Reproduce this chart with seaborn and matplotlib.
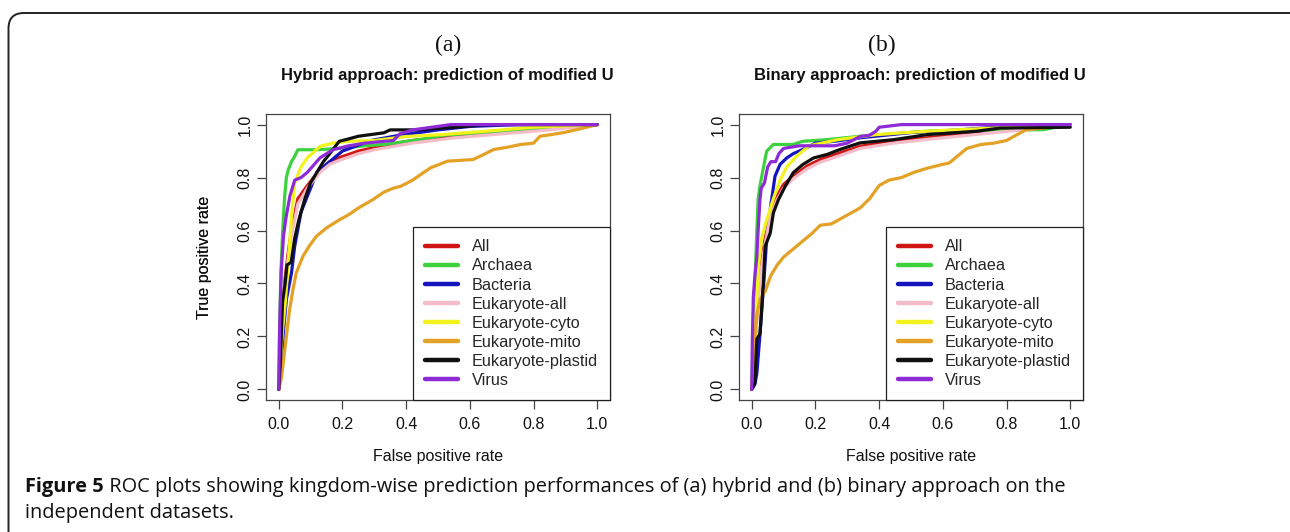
import numpy as np
import pandas as pd
import matplotlib
matplotlib.use("Agg")
import matplotlib.pyplot as plt
from matplotlib.patches import FancyBboxPatch
import seaborn as sns

# ---------------- data ----------------
series_names = ["All", "Archaea", "Bacteria", "Eukaryote-all", "Eukaryote-cyto",
                "Eukaryote-mito", "Eukaryote-plastid", "Virus"]
series_colors = ["#D01515", "#3DD23D", "#1515C0", "#F4BCC8", "#F2F21E",
                 "#E3A126", "#101010", "#8E2BD6"]

# Panel (a): hybrid approach
a_all_fpr = [0, .005, .01, .02, .03, .04, .06, .09, .13, .16, .19, .25, .30, .42, .55, .70, .85, 1]
a_all_tpr = [0, .12, .25, .42, .52, .60, .72, .77, .83, .86, .875, .90, .913, .94, .955, .97, .985, 1]
a_arch_fpr = [0, .003, .007, .012, .018, .024, .03, .04, .05, .06, .12, .19, .27, .33, .45, .52, .70, .85, 1]
a_arch_tpr = [0, .25, .45, .59, .72, .80, .83, .86, .88, .905, .905, .91, .92, .925, .945, .96, .975, .99, 1]
a_bact_fpr = [0, .005, .01, .014, .024, .04, .05, .07, .09, .12, .16, .20, .29, .38, .50, .60, .75, 1]
a_bact_tpr = [0, .05, .12, .21, .34, .44, .54, .67, .73, .82, .86, .90, .94, .96, .98, .993, 1, 1]
a_euka_fpr = [0, .005, .01, .02, .03, .04, .06, .09, .13, .16, .19, .25, .30, .42, .55, .70, .85, 1]
a_euka_tpr = [0, .10, .22, .40, .50, .58, .70, .76, .82, .85, .865, .89, .905, .93, .95, .965, .98, 1]
a_cyto_fpr = [0, .005, .01, .02, .03, .04, .05, .07, .09, .13, .17, .22, .30, .40, .51, .65, .80, 1]
a_cyto_tpr = [0, .10, .20, .32, .48, .65, .78, .84, .875, .918, .93, .937, .94, .955, .962, .975, .99, 1]
a_mito_fpr = [0, .008, .019, .034, .045, .055, .076, .095, .118, .15, .19, .22, .25, .296, .33, .36,
              .383, .42, .45, .477, .53, .61, .64, .675, .72, .76, .80, .82, .86, .895, .95, 1]
a_mito_tpr = [0, .04, .15, .30, .38, .44, .503, .54, .578, .61, .64, .66, .685, .717, .745, .76,
              .767, .79, .815, .837, .862, .868, .885, .906, .915, .925, .93, .956, .963, .97, .985, 1]
a_plas_fpr = [0, .005, .008, .012, .02, .026, .039, .05, .063, .082, .10, .12, .14, .16, .19, .21,
              .25, .33, .35, .43, .55, .65, 1]
a_plas_tpr = [0, .10, .20, .33, .40, .47, .48, .57, .64, .72, .78, .82, .86, .89, .937, .943,
              .956, .969, .98, .98, .99, 1, 1]
a_viru_fpr = [0, .003, .008, .015, .023, .035, .05, .07, .09, .13, .17, .22, .27, .36, .38, .42, .54, 1]
a_viru_tpr = [0, .25, .45, .58, .65, .73, .79, .80, .82, .875, .905, .92, .93, .94, .965, .98, 1, 1]

# Panel (b): binary approach
b_all_fpr = [0, .005, .01, .016, .026, .042, .058, .079, .10, .13, .173, .215, .277, .34, .445, .55, .707, .864, 1]
b_all_tpr = [0, .08, .18, .28, .44, .57, .667, .73, .774, .805, .843, .868, .893, .918, .937, .95, .969, .987, 1]
b_arch_fpr = [0, .005, .01, .016, .02, .026, .037, .047, .068, .13, .16, .235, .34, .55, .916, 1]
b_arch_tpr = [0, .20, .40, .60, .72, .77, .84, .90, .925, .925, .937, .943, .956, .975, .981, 1]
b_bact_fpr = [0, .01, .016, .026, .037, .047, .058, .073, .089, .11, .13, .16, .20, .26, .34, .50, .65, .81, 1]
b_bact_tpr = [0, .02, .06, .21, .39, .57, .68, .805, .85, .874, .89, .906, .93, .937, .95, .97, .98, .994, 1]
b_euka_fpr = [0, .005, .01, .016, .026, .042, .058, .079, .10, .13, .173, .215, .277, .34, .445, .55, .707, .864, 1]
b_euka_tpr = [0, .07, .16, .26, .42, .55, .65, .715, .76, .795, .833, .858, .883, .91, .93, .944, .963, .982, 1]
b_cyto_fpr = [0, .005, .01, .021, .031, .047, .068, .089, .11, .14, .18, .27, .39, .55, .76, 1]
b_cyto_tpr = [0, .10, .21, .465, .57, .64, .72, .79, .84, .88, .92, .943, .962, .975, .987, 1]
b_mito_fpr = [0, .005, .01, .016, .026, .042, .06, .08, .10, .13, .16, .19, .215, .25, .28, .31, .34,
              .37, .40, .43, .47, .51, .55, .60, .62, .645, .675, .72, .76, .80, .83, .86, .90, 1]
b_mito_tpr = [0, .10, .20, .28, .34, .37, .43, .47, .50, .53, .56, .59, .62, .625, .645, .665, .685,
              .72, .77, .79, .80, .82, .835, .85, .855, .88, .91, .925, .93, .94, .96, .98, .985, 1]
b_plas_fpr = [0, .01, .016, .026, .037, .042, .058, .068, .084, .105, .13, .16, .194, .236, .277,
              .34, .445, .55, .707, .78, 1]
b_plas_tpr = [0, .025, .19, .21, .415, .54, .59, .667, .717, .767, .818, .849, .874, .887, .906,
              .931, .943, .962, .975, .987, .99]
b_viru_fpr = [0, .002, .005, .01, .016, .02, .026, .03, .04, .05, .06, .075, .085, .10, .15, .26,
              .30, .34, .37, .39, .40, .47, 1]
b_viru_tpr = [0, .20, .35, .43, .50, .60, .72, .76, .78, .84, .86, .86, .89, .91, .92, .92,
              .93, .955, .96, .975, .99, 1, 1]

panel_letters = ["(a)", "(b)"]
panel_titles = ["Hybrid approach: prediction of modified U",
                "Binary approach: prediction of modified U"]
tick_values = [0.0, 0.2, 0.4, 0.6, 0.8, 1.0]
tick_labels = ["0.0", "0.2", "0.4", "0.6", "0.8", "1.0"]
x_label = "False positive rate"
y_label = "True positive rate"
caption_bold = "Figure 5"
caption_rest = (" ROC plots showing kingdom-wise prediction performances of (a) hybrid and (b) binary approach on the",
                "independent datasets.")

panel_a = [(a_all_fpr, a_all_tpr), (a_arch_fpr, a_arch_tpr), (a_bact_fpr, a_bact_tpr),
           (a_euka_fpr, a_euka_tpr), (a_cyto_fpr, a_cyto_tpr), (a_mito_fpr, a_mito_tpr),
           (a_plas_fpr, a_plas_tpr), (a_viru_fpr, a_viru_tpr)]
panel_b = [(b_all_fpr, b_all_tpr), (b_arch_fpr, b_arch_tpr), (b_bact_fpr, b_bact_tpr),
           (b_euka_fpr, b_euka_tpr), (b_cyto_fpr, b_cyto_tpr), (b_mito_fpr, b_mito_tpr),
           (b_plas_fpr, b_plas_tpr), (b_viru_fpr, b_viru_tpr)]


def make_df(panel):
    rows = []
    for name, (xs, ys) in zip(series_names, panel):
        for i, (x, y) in enumerate(zip(xs, ys)):
            rows.append({"series": name, "order": i, "fpr": x, "tpr": y})
    return pd.DataFrame(rows)


# ---------------- style ----------------
sns.set_theme(style="white")
plt.rcParams["font.family"] = ["Liberation Sans", "DejaVu Sans"]

W, H = 1290, 532
fig = plt.figure(figsize=(W / 100, H / 100), dpi=100)
fig.patch.set_facecolor("white")

# outer rounded frame (figure pixel coords -> fraction)
frame = FancyBboxPatch((8.5 / W, -0.05), 1.2, (H - 13) / H + 0.05,
                       boxstyle="round,pad=0,rounding_size=0.012",
                       transform=fig.transFigure, fill=False,
                       edgecolor="#222222", linewidth=1.4, mutation_aspect=W / H)
fig.patches.append(frame)

axes_px = [(266, 610), (739, 1083)]
ax_top, ax_bot = 114, 400
title_cx = [447, 920]
letter_cx = [448, 882]

palette = dict(zip(series_names, series_colors))
spine_col = "#444444"

for k, panel in enumerate([panel_a, panel_b]):
    l, r = axes_px[k]
    ax = fig.add_axes([l / W, (H - ax_bot) / H, (r - l) / W, (ax_bot - ax_top) / H])
    df = make_df(panel)
    sns.lineplot(data=df, x="fpr", y="tpr", hue="series", hue_order=series_names,
                 palette=palette, sort=False, estimator=None, legend=False,
                 linewidth=2.3, ax=ax)
    ax.set_xlim(-0.04, 1.04)
    ax.set_ylim(-0.04, 1.04)
    ax.set_xticks(tick_values)
    ax.set_xticklabels(tick_labels)
    ax.set_yticks(tick_values)
    ax.set_yticklabels(tick_labels, rotation=90, va="center")
    ax.tick_params(axis="both", direction="out", length=6.5, width=0.9, color=spine_col,
                   labelsize=11.5, labelcolor="#111111", left=True, bottom=True)
    ax.tick_params(axis="x", pad=6)
    ax.tick_params(axis="y", pad=3)
    for s in ax.spines.values():
        s.set_visible(True)
        s.set_color(spine_col)
        s.set_linewidth(0.9)
    ax.set_xlabel(x_label, fontsize=11.5, color="#111111")
    ax.set_ylabel(y_label, fontsize=11.5, color="#111111")
    ax.xaxis.set_label_coords(0.5, (ax_bot - 456) / (ax_bot - ax_top))
    ax.xaxis.label.set_va("center")
    ax.yaxis.set_label_coords((204 - l) / (r - l), 0.5)
    ax.yaxis.label.set_va("center")
    ax.grid(False)

    leg = ax.legend(ax.lines[:len(series_names)], series_names, loc="lower right",
                    bbox_to_anchor=(1, 0), borderaxespad=0, fontsize=11.7,
                    frameon=True, fancybox=False, framealpha=1, edgecolor="#222222",
                    handlelength=2.0, handletextpad=0.85, borderpad=0.75,
                    labelspacing=0.25)
    leg.get_frame().set_linewidth(0.9)
    for h in leg.get_lines():
        h.set_linewidth(3.2)

    fig.text(letter_cx[k] / W, 1 - 45 / H, panel_letters[k], ha="center", va="center",
             fontsize=17, family=["Liberation Serif", "DejaVu Serif"], color="#111111")
    fig.text(title_cx[k] / W, 1 - 76 / H, panel_titles[k], ha="center", va="center",
             fontsize=12, fontweight="bold", color="#111111")

# caption
cap_font = ["Open Sans", "DejaVu Sans"]
cap_size = 14.45
t1 = fig.text(25 / W, 1 - 487 / H, caption_bold, ha="left", va="center", fontsize=cap_size,
              fontweight="bold", family=cap_font, color="#111111")
fig.canvas.draw()
bb = t1.get_window_extent(renderer=fig.canvas.get_renderer())
fig.text(bb.x1 / W, 1 - 487 / H, caption_rest[0], ha="left", va="center", fontsize=cap_size,
         family=cap_font, color="#111111")
fig.text(25 / W, 1 - 513 / H, caption_rest[1], ha="left", va="center", fontsize=cap_size,
         family=cap_font, color="#111111")

fig.savefig("out.png", dpi=100, facecolor="white")
